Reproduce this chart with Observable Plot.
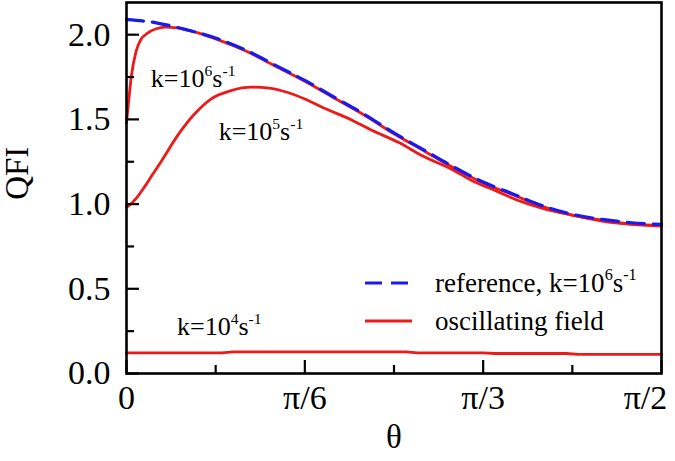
<!DOCTYPE html>
<html><head><meta charset="utf-8">
<script src="https://cdn.jsdelivr.net/npm/d3@7"></script>
<script src="https://cdn.jsdelivr.net/npm/@observablehq/plot@0.6"></script>
<style>body{margin:0;background:#fff}#chart{width:675px;height:461px}</style>
</head><body><div id="chart"></div>
<script>
// theta in degrees (0 .. 90 = pi/2)
const refTheta = [0,5,10,15,20,25,30,35,40,45,50,55,60,65,70,75,80,85,90];
const refQFI   = [2.09,2.07,2.03,1.98,1.91,1.82,1.73,1.63,1.53,1.42,1.32,1.22,1.13,1.06,0.99,0.94,0.91,0.89,0.88];

const k6Theta = [0,0.4,0.8,1.6,2.4,3.6,5,6.5,8.5,10.5,13,15,20,25,30,35,40,45,50,55,60,65,70,75,80,85,90];
const k6QFI   = [1.48,1.62,1.75,1.90,1.97,2.01,2.035,2.045,2.04,2.025,2.0,1.975,1.905,1.815,1.725,1.625,1.525,1.415,1.315,1.215,1.125,1.055,0.985,0.935,0.905,0.882,0.875];

const k5Theta = [0,1,2,3,4.3,5.8,8.7,11.4,14.2,17.6,21,24,27,30,33,37.7,41,46,49.5,55,58,62,66,70,75,80,85,90];
const k5QFI   = [0.98,1.01,1.05,1.10,1.17,1.25,1.41,1.53,1.62,1.67,1.69,1.685,1.66,1.62,1.57,1.50,1.44,1.36,1.29,1.20,1.14,1.08,1.02,0.975,0.935,0.90,0.88,0.87];

const k4Theta = [0,16,18,47,49,60,62,74,76,90];
const k4QFI   = [0.122,0.122,0.128,0.128,0.122,0.122,0.118,0.118,0.113,0.113];

const xTickValues = [0,30,60,90];
const xTickLabels = ["0","π/6","π/3","π/2"];
const xMinorTicks = [15,45,75];
const yTickValues = [0,0.5,1,1.5,2];
const yMinorTicks = [0.25,0.75,1.25,1.75];

const annoLabels = ["k=10^{6}s^{-1}","k=10^{5}s^{-1}","k=10^{4}s^{-1}"];
const annoTheta  = [4.1,15.5,8.5];
const annoQFI    = [1.74,1.43,0.275];

const legendLabels = ["reference, k=10^{6}s^{-1}","oscillating field"];

const xTitle = "θ";
const yTitle = "QFI";

const RED = "#ee1a1a", BLUE = "#1a1aee";
const FONT = "Liberation Serif";

const toRows = (t, q) => t.map((d, i) => ({theta: d, qfi: q[i]}));
const ref = toRows(refTheta, refQFI);
const k6 = toRows(k6Theta, k6QFI);
const k5 = toRows(k5Theta, k5QFI);
const k4 = toRows(k4Theta, k4QFI);
const annos = annoLabels.map((l, i) => ({label: l, theta: annoTheta[i], qfi: annoQFI[i]}));

const W = 675, H = 461, mL = 126, mR = 14, mT = 2, mB = 88;
const innerH = H - mT - mB, innerW = W - mL - mR;
const fmtX = d => xTickLabels[xTickValues.indexOf(d)];
const ANNO_FS = 26, LEG_FS = 27, TICK_FS = 34, TITLE_FS = 33;

const plot = Plot.plot({
  width: W, height: H, marginLeft: mL, marginRight: mR, marginTop: mT, marginBottom: mB,
  style: {fontFamily: FONT, fontSize: TICK_FS + "px", background: "#fff", color: "#000"},
  x: {domain: [0, 90]},
  y: {domain: [0, 2.19]},
  marks: [
    Plot.line(k4, {x: "theta", y: "qfi", stroke: RED, strokeWidth: 2.8}),
    Plot.line(k5, {x: "theta", y: "qfi", stroke: RED, strokeWidth: 2.8, curve: "monotone-x"}),
    Plot.line(k6, {x: "theta", y: "qfi", stroke: RED, strokeWidth: 2.8, curve: "monotone-x"}),
    Plot.line(ref, {x: "theta", y: "qfi", stroke: BLUE, strokeWidth: 3.2, strokeDasharray: "17,9", curve: "monotone-x"}),
    // inward ticks
    Plot.tickX(xTickValues, {x: d => d, insetTop: innerH - 13, stroke: "#000", strokeWidth: 2.2}),
    Plot.tickX(xMinorTicks, {x: d => d, insetTop: innerH - 8, stroke: "#000", strokeWidth: 2.2}),
    Plot.tickY(yTickValues, {y: d => d, insetRight: innerW - 13, stroke: "#000", strokeWidth: 2.2}),
    Plot.tickY(yMinorTicks, {y: d => d, insetRight: innerW - 8, stroke: "#000", strokeWidth: 2.2}),
    // tick labels
    Plot.axisX({ticks: xTickValues.slice(0, 3), tickFormat: fmtX, tickSize: 0, tickPadding: 11, label: null, fontSize: TICK_FS}),
    Plot.axisX({ticks: xTickValues.slice(3), tickFormat: fmtX, tickSize: 0, tickPadding: 11, dx: -16, label: null, fontSize: TICK_FS}),
    Plot.axisY({ticks: yTickValues, tickFormat: d => d.toFixed(1), tickSize: 0, tickPadding: 16, label: null, fontSize: TICK_FS}),
    // axis titles
    Plot.text([xTitle], {frameAnchor: "bottom", dy: 74, fontSize: TITLE_FS, text: d => d}),
    Plot.text([yTitle], {frameAnchor: "left", y: () => 1.025, dx: -109, rotate: -90, fontSize: TITLE_FS, text: d => d}),
    // annotations
    Plot.text(annos, {x: "theta", y: "qfi", text: "label", textAnchor: "start", fontSize: ANNO_FS}),
    Plot.frame({stroke: "#000", strokeWidth: 2.6})
  ]
});

function supify(el, fs) {
  const s = el.textContent;
  if (!s.includes("^{")) return;
  const parts = [];
  const re = /\^\{([^}]*)\}/g;
  let last = 0, m;
  while ((m = re.exec(s))) {
    if (m.index > last) parts.push({t: s.slice(last, m.index), sup: false});
    parts.push({t: m[1], sup: true});
    last = re.lastIndex;
  }
  if (last < s.length) parts.push({t: s.slice(last), sup: false});
  while (el.firstChild) el.removeChild(el.firstChild);
  const shift = fs * 0.42;
  let raised = false;
  const sel = d3.select(el);
  for (const p of parts) {
    const ts = sel.append("tspan").text(p.t);
    if (p.sup) {
      ts.style("font-size", (fs * 0.6) + "px").attr("dy", raised ? 0 : -shift);
      raised = true;
    } else {
      if (raised) ts.attr("dy", shift);
      raised = false;
    }
  }
}

const svg = d3.select(plot);
// enforce fonts explicitly on every text
svg.selectAll("text").style("font-family", FONT);
svg.selectAll('[aria-label="x-axis tick label"] text, [aria-label="y-axis tick label"] text')
  .style("font-size", TICK_FS + "px");
svg.selectAll("text").each(function() {
  if (this.textContent.includes("^{")) {
    d3.select(this).style("font-size", ANNO_FS + "px");
    supify(this, ANNO_FS);
  }
});

// legend
const lg = svg.append("g").style("font-family", FONT).style("font-size", LEG_FS + "px").attr("text-anchor", "start");
const legY = [283, 321];
lg.append("line").attr("x1", 365).attr("x2", 410).attr("y1", legY[0]).attr("y2", legY[0])
  .attr("stroke", BLUE).attr("stroke-width", 3.2).attr("stroke-dasharray", "17,9");
lg.append("line").attr("x1", 365).attr("x2", 412).attr("y1", legY[1]).attr("y2", legY[1])
  .attr("stroke", RED).attr("stroke-width", 2.8);
legendLabels.forEach((l, i) => {
  const t = lg.append("text").attr("x", 435).attr("y", legY[i]).attr("dy", "0.32em").text(l);
  supify(t.node(), LEG_FS);
});

document.getElementById("chart").appendChild(plot);
</script>
</body></html>
